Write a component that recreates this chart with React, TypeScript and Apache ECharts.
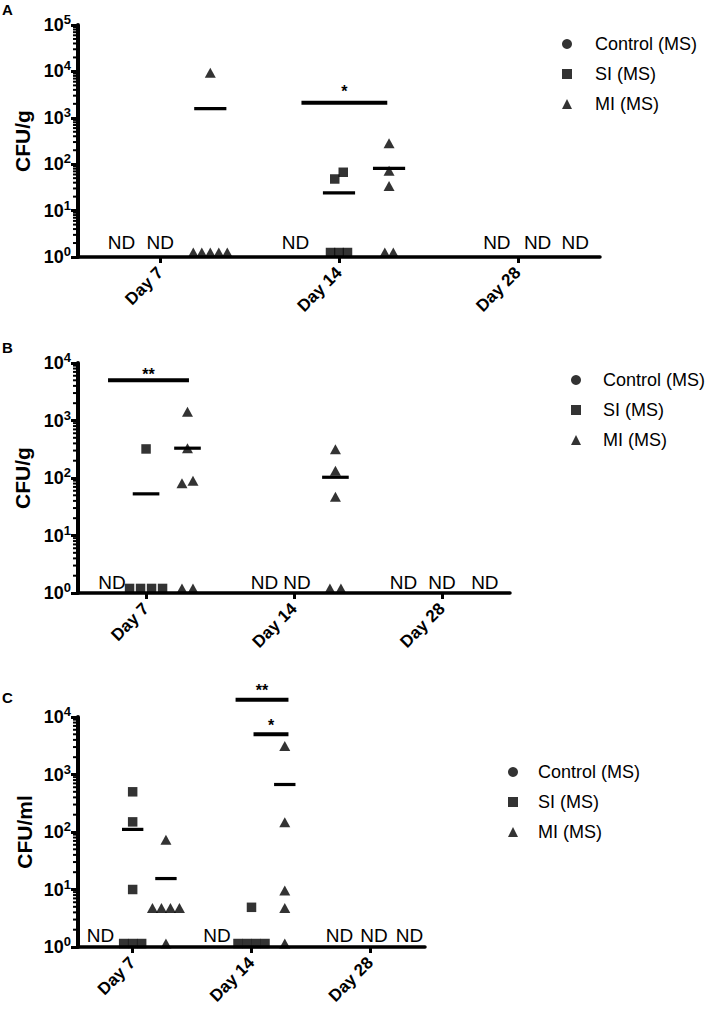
import React, { useEffect, useRef } from "react";
import * as echarts from "echarts";

const FONT = 'Arial, "Liberation Sans", Helvetica, sans-serif';

const DAYS = ["Day 7", "Day 14", "Day 28"];
const GROUPS = ["Control (MS)", "SI (MS)", "MI (MS)"];

// ---------- Panel A (CFU/g) : values per day [Day 7, Day 14, Day 28]
const A_SI = [[], [48, 67, 1.25, 1.25, 1.25], []];
const A_MI = [[9300, 1.25, 1.25, 1.25, 1.25, 1.25], [282, 72, 34, 1.25, 1.25], []];
const A_SI_MEAN = [null, 24, null];
const A_MI_MEAN = [1570, 81, null];
// ND annotations: [day index, group index]
const A_ND = [[0, 0], [0, 1], [1, 0], [2, 0], [2, 1], [2, 2]];
const A_SIG_Y = [2100];
const A_SIG_LABEL = ["*"];

// ---------- Panel B (CFU/g)
const B_SI = [[320, 1.2, 1.2, 1.2, 1.2], [], []];
const B_MI = [[1420, 330, 81, 90, 1.2, 1.2], [316, 134, 47, 1.2, 1.2], []];
const B_SI_MEAN = [53, null, null];
const B_MI_MEAN = [330, 103, null];
const B_ND = [[0, 0], [1, 0], [1, 1], [2, 0], [2, 1], [2, 2]];
const B_SIG_Y = [5000];
const B_SIG_LABEL = ["**"];

// ---------- Panel C (CFU/ml)
const C_SI = [[500, 150, 10, 1.15, 1.15, 1.15], [4.9, 1.15, 1.15, 1.15, 1.15], []];
const C_MI = [[73, 4.75, 4.75, 4.75, 4.75, 1.15], [3140, 148, 9.6, 4.75, 1.15], []];
const C_SI_MEAN = [111, null, null];
const C_MI_MEAN = [15.5, 670, null];
const C_ND = [[0, 0], [1, 0], [2, 0], [2, 1], [2, 2]];
const C_SIG_Y = [20000, 5000];
const C_SIG_LABEL = ["**", "*"];

// ---------- layout (positions only)
const X_MIN = 0.54;
const X_MAX = 3.46;
const GROUP_OFFSET = [-0.25, 0, 0.28];
const MEAN_HALF = 0.09;

const PANELS = [
  {
    letter: "A", letterTop: 2, yName: "CFU/g", maxExp: 5,
    grid: { left: 78, top: 25, width: 522, height: 232 },
    si: A_SI, mi: A_MI, siMean: A_SI_MEAN, miMean: A_MI_MEAN,
    nd: A_ND, ndX: [-0.217, 0, -0.244, -0.117, 0.111, 0.322], ndLift: 15,
    sigY: A_SIG_Y, sigLabel: A_SIG_LABEL, sigX: [[1.79, 2.27]], starGap: 3,
    jitterPx: 8.5, maxSpanPx: 40,
    legend: { left: 562, top: 35, pad: 18 },
  },
  {
    letter: "B", letterTop: 340, yName: "CFU/g", maxExp: 4,
    grid: { left: 78, top: 363, width: 432, height: 230 },
    si: B_SI, mi: B_MI, siMean: B_SI_MEAN, miMean: B_MI_MEAN,
    nd: B_ND, ndX: [-0.23, -0.2, 0.02, -0.26, 0, 0.29], ndLift: 11,
    sigY: B_SIG_Y, sigLabel: B_SIG_LABEL, sigX: [[0.743, 1.29]], starGap: -2,
    jitterPx: 11, maxSpanPx: 40,
    legend: { left: 571, top: 371, pad: 17 },
  },
  {
    letter: "C", letterTop: 690, yName: "CFU/ml", maxExp: 4,
    grid: { left: 78, top: 717, width: 347, height: 230 },
    si: C_SI, mi: C_MI, siMean: C_SI_MEAN, miMean: C_MI_MEAN,
    nd: C_ND, ndX: [-0.27, -0.29, -0.26, 0.03, 0.33], ndLift: 12,
    sigY: C_SIG_Y, sigLabel: C_SIG_LABEL, sigX: [[1.866, 2.311], [2.017, 2.311]], starGap: 1,
    jitterPx: 9, maxSpanPx: 30,
    legend: { left: 508, top: 763, pad: 15 },
  },
];

function spread(values: number[], center: number, step: number): number[][] {
  const clusters: { ref: number; items: number[] }[] = [];
  values.forEach((v) => {
    const c = clusters.find((cl) => Math.abs(Math.log10(cl.ref) - Math.log10(v)) < 0.2);
    if (c) c.items.push(v);
    else clusters.push({ ref: v, items: [v] });
  });
  const out: number[][] = [];
  clusters.forEach((cl) => {
    const n = cl.items.length;
    cl.items.forEach((v, i) => out.push([center + (i - (n - 1) / 2) * step, v]));
  });
  return out;
}

function buildOption() {
  const grid: any[] = [];
  const xAxis: any[] = [];
  const yAxis: any[] = [];
  const series: any[] = [];
  const legend: any[] = [];
  const title: any[] = [];

  PANELS.forEach((P, pi) => {
    grid.push({ ...P.grid, containLabel: false });
    const unitPx = P.grid.width / (X_MAX - X_MIN);
    const step = P.jitterPx / unitPx;

    title.push({
      text: P.letter, left: 2, top: P.letterTop, padding: 0,
      textStyle: { fontSize: 15, fontWeight: "bold", color: "#000", fontFamily: FONT },
    });

    xAxis.push({
      type: "value", gridIndex: pi, min: X_MIN, max: X_MAX,
      splitLine: { show: false },
      axisLine: { show: true, onZero: false, lineStyle: { color: "#000", width: 3.5 } },
      axisTick: { show: true, customValues: [1, 2, 3], length: 6, lineStyle: { color: "#000", width: 3 } },
      axisLabel: {
        customValues: [1, 2, 3],
        formatter: (v: number) => DAYS[Math.round(v) - 1] || "",
        rotate: 45, margin: 13, color: "#000", fontSize: 17, fontWeight: "bold", fontFamily: FONT,
      },
    });

    yAxis.push({
      type: "log", logBase: 10, gridIndex: pi, min: 1, max: Math.pow(10, P.maxExp),
      name: P.yName, nameLocation: "middle", nameGap: 43,
      nameTextStyle: { fontSize: 21, fontWeight: "bold", color: "#000", fontFamily: FONT },
      splitLine: { show: false },
      axisLine: { show: true, lineStyle: { color: "#000", width: 4 } },
      axisTick: { show: true, length: 7, lineStyle: { color: "#000", width: 3 } },
      minorTick: { show: false },
      axisLabel: {
        margin: 7,
        formatter: (v: number) => `{b|10}{s|${Math.round(Math.log10(v))}}`,
        rich: {
          b: { fontSize: 18, fontWeight: "bold", color: "#000", fontFamily: FONT, lineHeight: 24 },
          s: { fontSize: 13, fontWeight: "bold", color: "#000", fontFamily: FONT, verticalAlign: "top", lineHeight: 24 },
        },
      },
    });

    legend.push({
      orient: "vertical", left: P.legend.left, top: P.legend.top, padding: 0,
      itemWidth: 10, itemHeight: 10, itemGap: 12, selectedMode: false,
      data: [
        { name: GROUPS[0], icon: "circle" },
        { name: GROUPS[1], icon: "rect" },
        { name: GROUPS[2], icon: "triangle" },
      ],
      textStyle: { fontSize: 18, color: "#000", fontFamily: FONT, lineHeight: 18, padding: [0, 0, 0, P.legend.pad] },
    });

    // minor ticks of the log axis (2..9 within each decade)
    const minor: number[][] = [];
    for (let e = 0; e < P.maxExp; e++) for (let m = 2; m <= 9; m++) minor.push([X_MIN, m * Math.pow(10, e)]);
    series.push({
      type: "custom", xAxisIndex: pi, yAxisIndex: pi, silent: true, clip: false, data: minor,
      renderItem: (_p: any, api: any) => {
        const c = api.coord([api.value(0), api.value(1)]);
        return { type: "line", shape: { x1: c[0] - 5, y1: c[1], x2: c[0], y2: c[1] }, style: { stroke: "#000", lineWidth: 2 } };
      },
    });

    const siData: number[][] = [];
    const miData: number[][] = [];
    const spreadFit = (vals: number[], center: number) => {
      // keep a cluster no wider than maxSpanPx
      const counts: Record<string, number> = {};
      vals.forEach((v) => { counts[v] = (counts[v] || 0) + 1; });
      const maxN = Math.max(1, ...Object.values(counts));
      const s = maxN > 1 ? Math.min(step, P.maxSpanPx / unitPx / (maxN - 1)) : step;
      return spread(vals, center, Math.min(step, s));
    };
    P.si.forEach((vals: number[], d: number) => siData.push(...spreadFit(vals, d + 1 + GROUP_OFFSET[1])));
    P.mi.forEach((vals: number[], d: number) => miData.push(...spreadFit(vals, d + 1 + GROUP_OFFSET[2])));

    series.push({
      type: "scatter", name: GROUPS[0], xAxisIndex: pi, yAxisIndex: pi, symbol: "circle", symbolSize: 10,
      itemStyle: { color: "#000" }, data: [],
    });
    series.push({
      type: "scatter", name: GROUPS[1], xAxisIndex: pi, yAxisIndex: pi, symbol: "rect", symbolSize: 9.5,
      itemStyle: { color: "#000" }, data: siData, clip: false, silent: true,
    });
    series.push({
      type: "scatter", name: GROUPS[2], xAxisIndex: pi, yAxisIndex: pi, symbol: "triangle", symbolSize: [11, 10],
      itemStyle: { color: "#000" }, data: miData, clip: false, silent: true,
    });

    // mean lines
    const means: number[][] = [];
    P.siMean.forEach((m: number | null, d: number) => { if (m != null) means.push([d + 1 + GROUP_OFFSET[1], m]); });
    P.miMean.forEach((m: number | null, d: number) => { if (m != null) means.push([d + 1 + GROUP_OFFSET[2], m]); });
    series.push({
      type: "custom", xAxisIndex: pi, yAxisIndex: pi, silent: true, clip: false, data: means,
      renderItem: (_p: any, api: any) => {
        const a = api.coord([api.value(0) - MEAN_HALF, api.value(1)]);
        const b = api.coord([api.value(0) + MEAN_HALF, api.value(1)]);
        return { type: "line", shape: { x1: a[0], y1: a[1], x2: b[0], y2: b[1] }, style: { stroke: "#000", lineWidth: 3.2 } };
      },
    });

    // ND labels
    const ndData = P.nd.map((g: number[], i: number) => [g[0] + 1 + P.ndX[i], 1]);
    const lift = P.ndLift;
    series.push({
      type: "custom", xAxisIndex: pi, yAxisIndex: pi, silent: true, clip: false, data: ndData,
      renderItem: (_p: any, api: any) => {
        const c = api.coord([api.value(0), api.value(1)]);
        return {
          type: "text", x: c[0], y: c[1] - lift,
          style: { text: "ND", align: "center", verticalAlign: "middle", fontSize: 19, fontFamily: FONT, fill: "#000" },
        };
      },
    });

    // significance bars
    const sigData = P.sigY.map((y: number, i: number) => [P.sigX[i][0], P.sigX[i][1], y]);
    const labels = P.sigLabel;
    const starGap = P.starGap;
    series.push({
      type: "custom", xAxisIndex: pi, yAxisIndex: pi, silent: true, clip: false, data: sigData,
      renderItem: (params: any, api: any) => {
        const a = api.coord([api.value(0), api.value(2)]);
        const b = api.coord([api.value(1), api.value(2)]);
        return {
          type: "group",
          children: [
            { type: "line", shape: { x1: a[0], y1: a[1], x2: b[0], y2: b[1] }, style: { stroke: "#000", lineWidth: 4 } },
            {
              type: "text", x: (a[0] + b[0]) / 2, y: a[1] - starGap,
              style: { text: labels[params.dataIndex], align: "center", verticalAlign: "bottom", fontSize: 16, fontWeight: "bold", fontFamily: FONT, fill: "#000" },
            },
          ],
        };
      },
    });
  });

  return {
    animation: false,
    backgroundColor: "#fff",
    color: ["#000"],
    textStyle: { fontFamily: FONT, color: "#000" },
    title, grid, xAxis, yAxis, legend, series,
  };
}

export default function App() {
  const ref = useRef<HTMLDivElement>(null);
  useEffect(() => {
    document.body.style.margin = "0";
    if (!ref.current) return;
    const chart = echarts.init(ref.current, undefined, { renderer: "svg" });
    chart.setOption(buildOption() as any);
    return () => chart.dispose();
  }, []);
  return <div ref={ref} style={{ width: 710, height: 1014, background: "#fff" }} />;
}
